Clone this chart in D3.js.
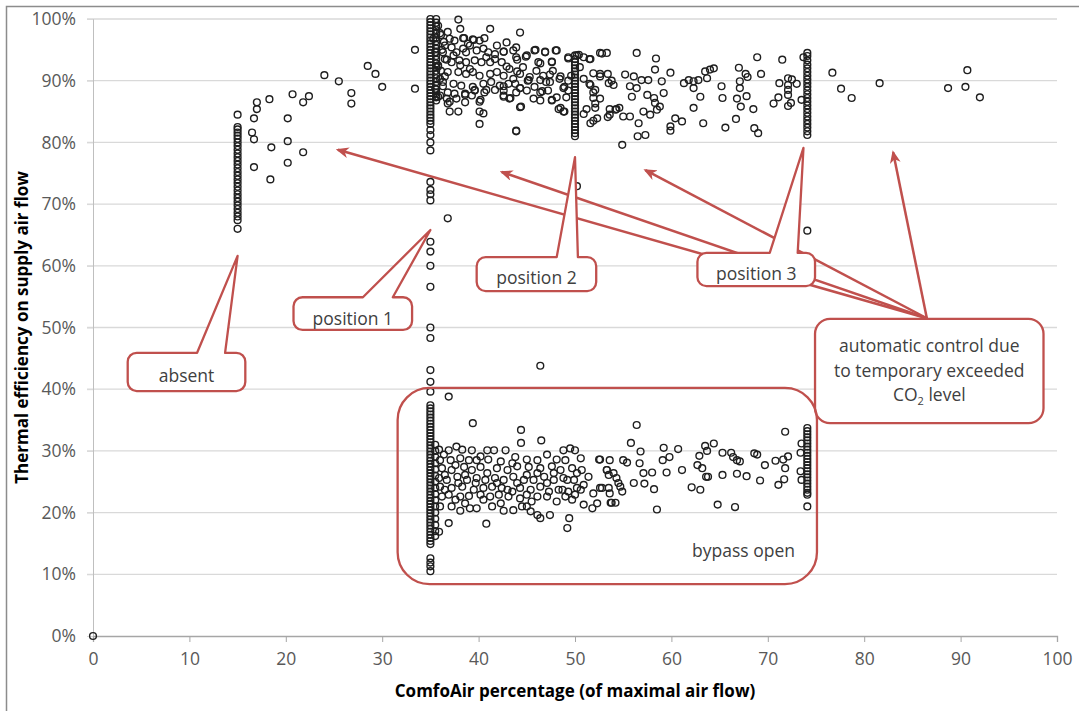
<!DOCTYPE html>
<html>
<head>
<meta charset="utf-8">
<script src="https://cdn.jsdelivr.net/npm/d3@7"></script>
<style>
  body { margin: 0; background: #fff; }
  .tick text { font-family: "Open Sans", sans-serif; font-size: 17.5px; fill: #595959; }
  .axisTitle { font-family: "Open Sans", sans-serif; font-size: 17px; font-weight: bold; fill: #000; }
  .note { font-family: "Open Sans", sans-serif; font-size: 17.5px; fill: #404040; }
</style>
</head>
<body>
<div class="chart"></div>
<script>
var svgWidth = 1079;
var svgHeight = 711;

var margin = { top: 19, right: 22, bottom: 75, left: 93 };

var width = svgWidth - margin.left - margin.right;
var height = svgHeight - margin.top - margin.bottom;

// tick values
var xTicks = [0, 10, 20, 30, 40, 50, 60, 70, 80, 90, 100];
var yTicks = [0, 10, 20, 30, 40, 50, 60, 70, 80, 90, 100];

// vertical columns of readings (x = ComfoAir %, values = efficiency %)
var col15 = [84.5, 82.5, 82.1, 81.6, 81.1, 80.6, 80.0, 79.4, 78.8, 78.2, 77.6, 77.0, 76.4, 75.8, 75.2,
  74.6, 74.0, 73.4, 72.8, 72.2, 71.6, 71.0, 70.4, 69.8, 69.2, 68.6, 68.0, 67.4, 66.0];
var col35Top = [100, 99.5, 99, 98.5, 98, 97.5, 97, 96.5, 96, 95.5, 95, 94.5, 94, 93.5, 93, 92.5, 92, 91.5,
  91, 90.5, 90, 89.5, 89, 88.5, 88, 87.5, 87, 86.5, 86, 85.5, 85, 84.5, 84, 83.5, 83, 82, 81.2, 80, 78.7,
  73.6, 72.3, 71.6, 70.6, 63.9, 62.3, 60, 56.6, 50, 48.3, 43.1, 41.2, 39.6];
var col35Top2 = [100, 99.4, 98.8, 98.2, 97.6, 97, 96.4, 95.8, 95.2, 94.6, 94, 93.4, 92.8, 92.2, 91.6, 91,
  90.4, 89.8, 89.2, 88.6, 88, 87.4, 86.8];
var col35Bot = [37.4, 36.9, 36.4, 35.9, 35.4, 34.9, 34.4, 33.9, 33.4, 32.9, 32.4, 31.9, 31.4, 30.9, 30.4,
  29.9, 29.4, 28.9, 28.4, 27.9, 27.4, 26.9, 26.4, 25.9, 25.4, 24.9, 24.4, 23.9, 23.4, 22.9, 22.4, 21.9,
  21.4, 20.9, 20.4, 19.9, 19.4, 18.9, 18.4, 17.9, 17.4, 16.9, 16.4, 15.9, 15.4, 14.9, 12.6, 11.9, 11.3, 10.5];
var col35Bot2 = [31, 30, 29, 28, 27, 26, 25, 24, 23, 22, 21, 20, 19, 18, 17, 16.2];
var col50 = [94.1, 93.5, 93, 92.5, 92, 91.5, 91, 90.5, 90, 89.5, 89, 88.5, 88, 87.5, 87, 86.5, 86, 85.5,
  85, 84.5, 84, 83.5, 83, 82.5, 82, 81.5, 81];
var col74Top = [94.5, 94, 93.3, 92.6, 92, 91.4, 90.8, 90.2, 89.6, 89, 88.4, 87.8, 87.2, 86.6, 86, 85.4,
  84.8, 84.2, 83.6, 83, 82.4, 81.8, 81.2];
var col74Bot = [33.7, 33.2, 32.7, 32.2, 31.7, 31.2, 30.7, 30.2, 29.7, 29.2, 28.7, 28.2, 27.7, 27.2, 26.7,
  26.2, 25.7, 25.2, 24.7, 24.2, 23.7, 23.2, 22.9, 21.0];

// loose points [ComfoAir %, efficiency %]
var singles = [[0, 0], [74.1, 65.7], [36.8, 67.7], [50.2, 72.9], [46.4, 43.8], [36.9, 38.8]];

var rising = [[16.5, 81.6], [16.7, 80.5], [16.7, 83.9], [17.0, 86.5], [17.0, 85.4], [16.7, 76.0],
  [18.3, 87.0], [18.5, 79.2], [18.4, 74.0], [20.2, 83.9], [20.2, 80.2], [20.2, 76.7], [20.7, 87.8],
  [21.8, 86.5], [22.4, 87.5], [21.8, 78.4], [24.0, 90.9], [25.5, 89.9], [26.8, 88.0], [26.8, 86.3],
  [28.5, 92.4], [29.3, 91.1], [30.0, 89.0], [33.4, 88.7], [33.4, 95.0]];

var cloudTop = [[37.9, 99.9], [38.1, 98.4], [38.4, 96.9], [39.4, 96.7], [40.6, 96.9], [41.2, 98.4],
  [36.1, 97.4], [35.8, 98.9], [36.5, 95.7], [37.2, 95.4], [37.7, 94.6], [38.4, 95.2], [39.1, 95.7],
  [39.8, 94.9], [40.5, 95.2], [41.0, 94.6], [41.9, 95.7], [42.6, 94.7], [36.5, 93.5], [37.2, 93.0],
  [38.0, 93.3], [38.7, 93.0], [39.6, 93.3], [40.3, 93.0], [41.2, 93.0], [41.7, 93.5], [36.1, 91.6],
  [36.8, 91.4], [37.9, 91.4], [38.7, 91.1], [39.4, 91.4], [40.1, 90.8], [41.2, 91.1], [41.9, 91.4],
  [36.3, 89.8], [37.4, 89.5], [38.2, 89.2], [39.4, 89.0], [40.5, 89.5], [41.3, 89.8], [42.2, 89.2],
  [35.6, 87.3], [36.7, 87.1], [37.5, 87.9], [38.6, 87.9], [39.6, 88.4], [40.6, 88.1], [42.6, 87.6],
  [43.2, 87.1], [36.8, 86.3], [37.0, 85.0], [37.9, 85.0], [40.1, 86.6], [40.1, 85.0], [40.5, 84.7],
  [40.1, 83.0], [43.9, 95.4], [44.3, 97.8], [43.9, 93.8], [45.0, 94.1], [45.8, 94.9], [46.9, 94.6],
  [48.0, 94.9], [47.6, 93.0], [46.2, 93.0], [44.3, 91.1], [45.1, 90.0], [43.8, 89.5], [44.3, 88.8],
  [45.0, 88.4], [43.9, 88.1], [46.4, 88.1], [47.0, 89.8], [47.7, 91.6], [48.4, 90.3], [48.9, 89.0],
  [48.1, 87.3], [47.6, 86.8], [48.3, 85.4], [48.8, 85.0], [44.3, 85.7], [43.9, 81.9], [47.2, 88.4],
  [45.8, 89.0], [43.2, 91.9], [36.0, 97.7], [36.4, 96.3], [36.2, 95.0], [36.7, 93.4], [35.8, 92.3],
  [36.5, 90.7], [36.3, 89.1], [35.8, 87.4], [38.5, 96.9], [39.5, 96.6], [42.6, 94.7], [42.9, 92.3],
  [44.0, 93.4], [44.9, 93.9], [45.9, 95.0], [46.9, 94.7], [48.1, 94.9], [47.6, 93.1], [46.4, 92.8],
  [45.2, 90.1], [44.0, 91.5], [44.3, 88.8], [42.6, 89.1], [41.7, 88.5], [40.8, 88.5], [39.6, 88.5],
  [38.6, 87.7], [37.0, 86.6], [40.2, 86.9], [42.6, 87.4], [43.3, 87.2], [44.4, 85.8], [43.9, 81.8],
  [46.6, 88.3], [47.6, 86.9], [48.5, 85.6], [48.9, 85.0], [48.5, 90.7], [48.8, 88.8], [47.4, 91.0],
  [46.4, 90.1], [49.3, 93.6], [50.4, 94.2], [51.6, 93.5], [52.6, 94.5], [53.3, 94.5], [51.9, 91.2],
  [52.6, 90.7], [51.6, 89.3], [52.1, 88.5], [51.9, 87.2], [52.1, 85.6], [51.6, 83.1], [52.3, 83.9],
  [53.5, 89.6], [54.0, 89.3], [53.6, 84.5], [54.2, 85.3], [54.6, 85.6], [55.0, 84.2], [55.7, 84.2],
  [54.9, 79.6], [55.2, 91.0], [56.1, 90.7], [56.4, 94.5], [55.7, 89.1], [56.4, 88.8], [55.9, 87.4],
  [56.9, 90.1], [57.6, 90.1], [57.5, 87.7], [58.2, 87.2], [57.1, 85.0], [57.8, 84.5], [58.3, 86.4],
  [58.8, 85.8], [56.6, 83.1], [56.5, 81.0], [57.3, 81.2], [58.4, 93.6], [58.3, 91.8], [59.9, 91.3],
  [59.0, 89.9], [59.2, 88.0], [58.5, 85.3], [59.9, 82.6], [60.4, 83.9], [61.1, 83.4], [59.9, 81.9],
  [61.3, 89.6], [61.8, 90.1], [62.3, 89.9], [62.8, 90.1], [62.3, 88.8], [63.0, 87.4], [62.3, 85.6],
  [63.3, 83.1], [63.5, 91.5], [64.0, 91.8], [64.4, 92.0], [63.7, 90.4], [49.3, 93.8], [50.2, 94.1],
  [50.9, 93.8], [51.5, 93.5], [52.8, 94.4], [50.5, 92.2], [50.9, 90.3], [51.5, 89.5], [51.9, 88.1],
  [52.6, 91.1], [53.4, 91.1], [53.8, 90.0], [52.6, 87.1], [52.1, 86.3], [51.2, 85.4], [51.9, 83.5],
  [50.9, 84.6], [49.1, 87.3], [49.3, 88.4], [49.3, 90.0], [49.6, 90.8], [53.6, 85.4], [54.3, 85.4],
  [53.4, 84.1], [65.2, 89.1], [65.3, 87.2], [65.6, 82.4], [66.7, 83.8], [66.8, 87.1], [67.1, 89.9],
  [67.1, 88.8], [67.0, 92.1], [67.7, 91.1], [67.9, 90.6], [67.8, 87.5], [67.2, 85.8], [68.5, 85.4],
  [68.6, 82.3], [69.0, 81.5], [68.9, 93.8], [69.3, 91.1], [71.5, 93.4], [71.2, 89.6], [72.1, 90.4],
  [72.1, 89.3], [72.1, 88.5], [72.1, 87.7], [72.5, 90.2], [73.0, 89.5], [71.1, 87.3], [70.6, 86.3],
  [72.1, 85.9], [72.4, 86.4], [73.5, 86.9], [73.7, 93.8], [76.7, 91.3], [77.6, 88.7], [78.7, 87.2],
  [81.6, 89.6], [88.7, 88.8], [90.5, 89.0], [90.7, 91.7], [92.0, 87.3],
  [35.3, 96.8], [35.5, 94.6], [35.8, 92.5], [36.0, 90.3], [35.5, 88.7], [36.0, 87.6], [37.4, 94.1],
  [38.1, 92.5], [38.7, 94.6], [39.1, 91.9], [40.8, 93.8], [42.4, 93.0], [42.6, 90.8], [43.1, 89.5],
  [43.6, 90.3], [44.6, 92.2], [45.3, 90.6], [46.0, 91.6], [46.7, 90.8], [47.4, 89.8], [46.4, 86.8],
  [45.7, 87.1], [42.6, 88.4], [36.8, 88.1], [37.7, 87.1], [38.6, 86.5], [39.3, 87.6], [36.3, 94.6],
  [37.0, 96.8], [36.8, 97.9], [37.5, 96.5], [38.9, 96.0], [40.1, 96.5], [41.7, 94.3], [42.9, 96.2],
  [43.6, 94.9]];

var cloudBottom = [[39.4, 34.5], [44.4, 33.4], [44.4, 31.3], [46.5, 31.7], [35.9, 30.2], [36.9, 30.1],
  [37.7, 30.7], [38.3, 30.2], [39.3, 30.1], [40.9, 30.1], [41.6, 30.1], [42.8, 30.1], [43.8, 29.0],
  [45.0, 28.6], [46.1, 28.5], [47.1, 29.4], [48.1, 28.6], [48.8, 30.1], [49.5, 30.4], [50.0, 30.1],
  [50.6, 28.8], [52.5, 28.6], [53.6, 28.5], [36.0, 28.5], [37.1, 28.5], [38.1, 28.8], [39.8, 28.5],
  [41.0, 28.6], [42.3, 28.3], [43.5, 28.0], [36.2, 27.2], [37.2, 26.9], [38.5, 27.4], [39.3, 26.9],
  [40.2, 27.4], [41.9, 27.2], [43.0, 26.9], [44.0, 27.5], [45.2, 27.4], [46.4, 27.2], [47.6, 27.5],
  [48.5, 26.9], [49.7, 27.2], [50.7, 26.9], [51.4, 25.8], [53.3, 26.9], [54.0, 26.4], [35.9, 25.6],
  [36.7, 25.3], [37.8, 25.8], [38.8, 25.3], [39.8, 25.6], [40.7, 25.3], [41.7, 25.6], [42.6, 25.3],
  [43.6, 25.8], [44.7, 25.3], [45.7, 25.3], [46.8, 25.8], [47.8, 25.3], [48.8, 25.6], [49.9, 25.3],
  [50.9, 24.5], [36.0, 24.2], [37.2, 24.0], [38.3, 24.2], [39.5, 23.7], [40.5, 24.0], [41.4, 24.2],
  [42.4, 24.0], [43.5, 23.4], [44.3, 24.0], [45.4, 23.7], [46.4, 24.2], [47.3, 23.4], [48.3, 23.7],
  [49.3, 23.4], [50.2, 24.0], [51.9, 23.1], [52.6, 24.0], [53.5, 24.0], [53.7, 21.6], [54.2, 21.6],
  [36.2, 22.6], [36.9, 22.9], [38.1, 22.6], [39.0, 22.7], [40.2, 22.9], [41.2, 22.6], [42.1, 22.9],
  [43.1, 22.6], [45.0, 22.9], [46.1, 22.6], [48.1, 21.8], [49.0, 22.6], [50.0, 22.9], [50.9, 21.3],
  [36.0, 21.0], [37.2, 21.0], [38.1, 20.3], [39.1, 20.7], [39.8, 20.7], [41.4, 21.0], [42.6, 20.3],
  [43.6, 20.4], [44.5, 21.0], [45.0, 21.0], [45.4, 20.2], [46.1, 19.6], [46.4, 19.1], [47.4, 19.6],
  [49.2, 17.5], [49.4, 19.1], [51.8, 20.7], [52.3, 21.5], [36.9, 18.3], [40.8, 18.2], [35.9, 16.9],
  [52.6, 28.6], [53.3, 26.9], [53.5, 26.1], [54.3, 25.6], [54.5, 24.8], [54.7, 24.2], [54.9, 23.4],
  [53.6, 23.1], [52.8, 24.0], [53.8, 21.6], [55.0, 28.5], [55.4, 28.1], [56.4, 34.2], [55.8, 31.3],
  [56.8, 29.9], [56.7, 28.0], [56.1, 24.8], [57.1, 26.4], [58.0, 26.5], [57.2, 24.7], [58.2, 23.8],
  [58.5, 20.5], [59.1, 28.5], [59.2, 30.5], [59.8, 29.0], [59.5, 26.5], [60.7, 30.3], [61.1, 26.9],
  [62.1, 24.1], [63.0, 23.7], [62.9, 29.2], [62.7, 27.7], [63.2, 27.2], [63.6, 25.8], [63.8, 25.8],
  [63.5, 30.8], [63.7, 30.0], [64.4, 31.2], [64.8, 21.3], [65.3, 29.7], [65.3, 26.1], [66.2, 29.7],
  [66.4, 29.0], [66.8, 28.5], [67.1, 28.3], [66.8, 26.3], [67.8, 25.9], [66.6, 20.9], [68.6, 29.6],
  [68.9, 29.4], [69.2, 25.2], [69.7, 27.7], [70.8, 28.4], [71.1, 24.5], [71.6, 28.6], [71.8, 27.2],
  [71.7, 25.4], [71.8, 33.1], [72.1, 29.1], [73.4, 29.7], [73.5, 31.2], [73.4, 26.7], [73.5, 25.3],
  [36.4, 29.4], [37.6, 27.7], [38.6, 26.1], [39.7, 24.8], [40.9, 26.4], [41.9, 24.8], [43.0, 23.7],
  [44.0, 24.8], [45.0, 26.1], [46.1, 26.4], [47.1, 24.8], [47.8, 26.4], [49.0, 28.5], [49.2, 25.3],
  [50.2, 26.4], [50.6, 23.7], [36.5, 23.7], [37.6, 22.1], [38.6, 21.5], [40.5, 22.1], [42.3, 21.5],
  [44.3, 22.3], [45.5, 21.8], [47.1, 22.6], [48.7, 23.7], [49.7, 22.1], [36.5, 26.1], [37.9, 24.8],
  [39.0, 28.5], [40.2, 29.1]];

// callouts, in data units (x %, efficiency %)
var callouts = [
  { text: "absent", box: [3.6, 45.9, 15.8, 39.7], base: [10.8, 13.7], tip: [15.0, 61.6], dy: 4 },
  { text: "position 1", box: [20.8, 54.9, 33.1, 49.6], base: [28.0, 31.1], tip: [35.0, 65.8], dy: 5 },
  { text: "position 2", box: [39.8, 61.4, 52.2, 55.9], base: [48.1, 50.3], tip: [50.0, 77.6], dy: 4 },
  { text: "position 3", box: [62.7, 62.1, 74.9, 56.7], base: [70.2, 73.1], tip: [73.7, 79.1], dy: 4 }
];
var autoBox = [74.9, 51.4, 98.6, 34.5];
var arrowFrom = [86.5, 51.5];
var arrowTips = [[25.4, 78.8], [42.4, 75.2], [57.3, 75.5], [83.0, 78.4]];
var bypassBox = [31.6, 40.2, 75.1, 8.4];

var red = "#c0504d";

var svg = d3.select(".chart")
  .append("svg")
  .attr("width", svgWidth)
  .attr("height", svgHeight);

// outer frame
svg.append("rect")
  .attr("x", 6.5).attr("y", 6.5)
  .attr("width", svgWidth + 20).attr("height", svgHeight + 20)
  .attr("fill", "none").attr("stroke", "#8c8c8c").attr("stroke-width", 1.5);

var chartGroup = svg.append("g")
  .attr("transform", `translate(${margin.left}, ${margin.top})`);

var x = d3.scaleLinear().domain([0, 100]).range([0, width]);
var y = d3.scaleLinear().domain([0, 100]).range([height, 0]);

// gridlines
chartGroup.append("g")
  .selectAll("line")
  .data(yTicks.filter(d => d > 0))
  .enter()
  .append("line")
  .attr("x1", -6).attr("x2", width)
  .attr("y1", d => y(d)).attr("y2", d => y(d))
  .attr("stroke", "#d9d9d9").attr("stroke-width", 1.3);

var leftAxis = d3.axisLeft(y).tickValues(yTicks).tickFormat(d => d + "%").tickSize(6).tickPadding(11);
var bottomAxis = d3.axisBottom(x).tickValues(xTicks).tickSize(6).tickPadding(11);

var gy = chartGroup.append("g").call(leftAxis);
gy.select(".domain").attr("stroke", "#bfbfbf");
gy.selectAll(".tick line").attr("stroke", "#d9d9d9");

var gx = chartGroup.append("g")
  .attr("transform", `translate(0, ${height})`)
  .call(bottomAxis);
gx.select(".domain").attr("stroke", "#a6a6a6").attr("stroke-width", 1.3);
gx.selectAll(".tick line").attr("stroke", "#a6a6a6");

// arrows
var defs = svg.append("defs");
defs.append("marker")
  .attr("id", "head")
  .attr("viewBox", "0 0 12 10")
  .attr("refX", 10).attr("refY", 5)
  .attr("markerWidth", 13).attr("markerHeight", 11)
  .attr("markerUnits", "userSpaceOnUse")
  .attr("orient", "auto")
  .append("path")
  .attr("d", "M0,0 L12,5 L0,10 L3.5,5 Z")
  .attr("fill", red);

chartGroup.append("g")
  .selectAll("line")
  .data(arrowTips)
  .enter()
  .append("line")
  .attr("x1", x(arrowFrom[0])).attr("y1", y(arrowFrom[1]))
  .attr("x2", d => x(d[0])).attr("y2", d => y(d[1]))
  .attr("stroke", red).attr("stroke-width", 2.5)
  .attr("marker-end", "url(#head)");

// points
var points = [];
col15.forEach(v => points.push([15, v]));
col35Top.forEach(v => points.push([35, v]));
col35Top2.forEach(v => points.push([35.6, v]));
col35Bot.forEach(v => points.push([35, v]));
col35Bot2.forEach(v => points.push([35.5, v]));
col50.forEach(v => points.push([50, v]));
col74Top.forEach(v => points.push([74.1, v]));
col74Bot.forEach(v => points.push([74.1, v]));
points = points.concat(singles, rising, cloudTop, cloudBottom);

chartGroup.append("g")
  .selectAll("circle")
  .data(points)
  .enter()
  .append("circle")
  .attr("cx", d => x(d[0]))
  .attr("cy", d => y(d[1]))
  .attr("r", 3.4)
  .attr("fill", "none")
  .attr("stroke", "#1f1f1f")
  .attr("stroke-width", 1.4);

// callout with a wedge on its top edge
function calloutPath(c) {
  var x0 = x(c.box[0]), y0 = y(c.box[1]), x1 = x(c.box[2]), y1 = y(c.box[3]);
  var r = 9;
  var b1 = x(c.base[0]), b2 = x(c.base[1]);
  var tx = x(c.tip[0]), ty = y(c.tip[1]);
  return `M${x0 + r},${y0} L${b1},${y0} L${tx},${ty} L${b2},${y0} L${x1 - r},${y0}` +
    ` A${r},${r} 0 0 1 ${x1},${y0 + r} L${x1},${y1 - r} A${r},${r} 0 0 1 ${x1 - r},${y1}` +
    ` L${x0 + r},${y1} A${r},${r} 0 0 1 ${x0},${y1 - r} L${x0},${y0 + r} A${r},${r} 0 0 1 ${x0 + r},${y0} Z`;
}

var notes = chartGroup.append("g");
callouts.forEach(function(c) {
  notes.append("path")
    .attr("d", calloutPath(c))
    .attr("fill", "#fff")
    .attr("stroke", red)
    .attr("stroke-width", 2.3)
    .attr("stroke-linejoin", "round");
  notes.append("text")
    .attr("class", "note")
    .attr("x", (x(c.box[0]) + x(c.box[2])) / 2)
    .attr("y", (y(c.box[1]) + y(c.box[3])) / 2 + c.dy)
    .attr("dy", "0.35em")
    .attr("text-anchor", "middle")
    .text(c.text);
});

// automatic control box
notes.append("rect")
  .attr("x", x(autoBox[0])).attr("y", y(autoBox[1]))
  .attr("width", x(autoBox[2]) - x(autoBox[0]))
  .attr("height", y(autoBox[3]) - y(autoBox[1]))
  .attr("rx", 15)
  .attr("fill", "#fff").attr("stroke", red).attr("stroke-width", 2.3);

var autoX = (x(autoBox[0]) + x(autoBox[2])) / 2;
var autoY = (y(autoBox[1]) + y(autoBox[3])) / 2;
notes.append("text").attr("class", "note").attr("text-anchor", "middle")
  .attr("x", autoX).attr("y", autoY - 25).attr("dy", "0.35em")
  .text("automatic control due");
notes.append("text").attr("class", "note").attr("text-anchor", "middle")
  .attr("x", autoX).attr("y", autoY).attr("dy", "0.35em")
  .text("to temporary exceeded");
var co2 = notes.append("text").attr("class", "note").attr("text-anchor", "middle")
  .attr("x", autoX).attr("y", autoY + 24).attr("dy", "0.35em");
co2.append("tspan").text("CO");
co2.append("tspan").attr("font-size", "11px").attr("dy", "4").text("2");
co2.append("tspan").attr("dy", "-4").text(" level");

// bypass box
notes.append("rect")
  .attr("x", x(bypassBox[0])).attr("y", y(bypassBox[1]))
  .attr("width", x(bypassBox[2]) - x(bypassBox[0]))
  .attr("height", y(bypassBox[3]) - y(bypassBox[1]))
  .attr("rx", 32)
  .attr("fill", "none").attr("stroke", red).attr("stroke-width", 2.3);
notes.append("text").attr("class", "note").attr("text-anchor", "end")
  .attr("x", x(bypassBox[2]) - 22).attr("y", y(bypassBox[3]) - 27)
  .text("bypass open");

// axis titles
chartGroup.append("text")
  .attr("class", "axisTitle")
  .attr("transform", `translate(${-margin.left + 22}, ${height / 2}) rotate(-90)`)
  .attr("text-anchor", "middle")
  .attr("dy", "0.35em")
  .text("Thermal efficiency on supply air flow");

chartGroup.append("text")
  .attr("class", "axisTitle")
  .attr("x", x(50))
  .attr("y", height + 55)
  .attr("text-anchor", "middle")
  .attr("dy", "0.35em")
  .text("ComfoAir percentage (of maximal air flow)");
</script>
</body>
</html>
